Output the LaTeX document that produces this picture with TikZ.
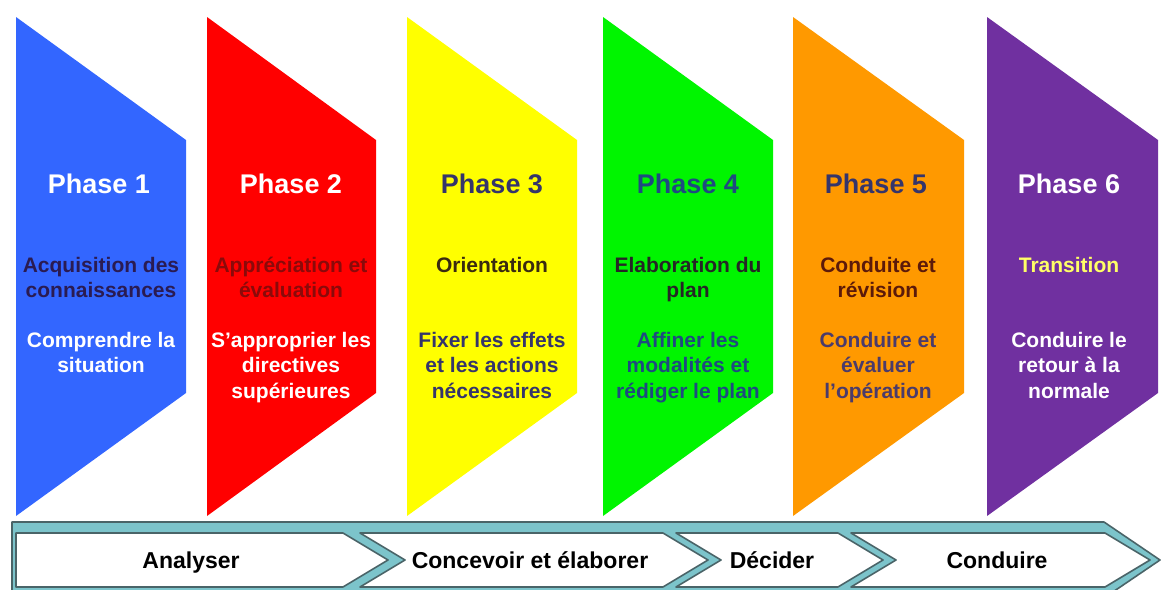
\documentclass[tikz,border=0pt]{standalone}
\usepackage{fontspec}
\setmainfont{Liberation Sans}
\usepackage{xcolor}
\usepackage{tikz}

\definecolor{fillblue}{HTML}{3366FF}
\definecolor{fillred}{HTML}{FF0000}
\definecolor{fillyellow}{HTML}{FFFF00}
\definecolor{fillgreen}{HTML}{00F500}
\definecolor{fillorange}{HTML}{FF9900}
\definecolor{fillpurple}{HTML}{7030A0}
\definecolor{barteal}{HTML}{7CC4CB}
\definecolor{bardark}{HTML}{4A6468}
\definecolor{inknavy}{HTML}{2A1B52}
\definecolor{inkred}{HTML}{8A0A0A}
\definecolor{inkslate}{HTML}{35356B}
\definecolor{inkbrown}{HTML}{3A2A10}
\definecolor{inkblue}{HTML}{1F4A80}
\definecolor{inkmaroon}{HTML}{5C1A0A}
\definecolor{inkplum}{HTML}{4B3B6B}
\definecolor{inkyellow}{HTML}{FFFF66}

\newcommand{\phaselines}[1]{\begin{tabular}[t]{@{}c@{}}#1\end{tabular}}

\begin{document}
\begin{tikzpicture}[x=1pt,y=-1pt,
	phasetitle/.style={font=\fontsize{27}{30}\selectfont\bfseries,anchor=base,inner sep=0pt},
	phasetext/.style={font=\fontsize{21}{25.5}\selectfont\bfseries,anchor=base,inner sep=0pt},
	chevron/.style={fill=white,draw=bardark,line width=1.6pt,line join=round},
	bartext/.style={font=\fontsize{23}{27}\selectfont\bfseries,anchor=base,inner sep=0pt}]
	\useasboundingbox (0,0) rectangle (1161,589);
	\clip (0,0) rectangle (1161,589);
	
	\fill[fillblue] (16,17) -- (186,140) -- (186,393) -- (16,516) -- cycle;
	\fill[fillred] (207,17) -- (376,140) -- (376,393) -- (207,516) -- cycle;
	\fill[fillyellow] (407,17) -- (577,140) -- (577,393) -- (407,516) -- cycle;
	\fill[fillgreen] (603,17) -- (773,140) -- (773,393) -- (603,516) -- cycle;
	\fill[fillorange] (793,17) -- (964,140) -- (964,393) -- (793,516) -- cycle;
	\fill[fillpurple] (987,17) -- (1158,140) -- (1158,393) -- (987,516) -- cycle;
	
	\node[phasetitle,white] (p1title) at (99,193) {Phase 1};
	\node[phasetext,inknavy] (p1top) at (101,272) {\phaselines{Acquisition des\\connaissances}};
	\node[phasetext,white] (p1bot) at (101,347) {\phaselines{Comprendre la\\situation}};
	
	\node[phasetitle,white] (p2title) at (291,193) {Phase 2};
	\node[phasetext,inkred] (p2top) at (291,272) {\phaselines{Appréciation et\\évaluation}};
	\node[phasetext,white] (p2bot) at (291,347) {\phaselines{S’approprier les\\directives\\supérieures}};
	
	\node[phasetitle,inkslate] (p3title) at (492,193) {Phase 3};
	\node[phasetext,inkbrown] (p3top) at (492,272) {Orientation};
	\node[phasetext,inkslate] (p3bot) at (492,347) {\phaselines{Fixer les effets\\et les actions\\nécessaires}};
	
	\node[phasetitle,inkblue] (p4title) at (688,193) {Phase 4};
	\node[phasetext,black!85] (p4top) at (688,272) {\phaselines{Elaboration du\\plan}};
	\node[phasetext,inkblue] (p4bot) at (688,347) {\phaselines{Affiner les\\modalités et\\rédiger le plan}};
	
	\node[phasetitle,inkslate] (p5title) at (876,193) {Phase 5};
	\node[phasetext,inkmaroon] (p5top) at (878,272) {\phaselines{Conduite et\\révision}};
	\node[phasetext,inkplum] (p5bot) at (878,347) {\phaselines{Conduire et\\évaluer\\l’opération}};
	
	\node[phasetitle,white] (p6title) at (1069,193) {Phase 6};
	\node[phasetext,inkyellow] (p6top) at (1069,272) {Transition};
	\node[phasetext,white] (p6bot) at (1069,347) {\phaselines{Conduire le\\retour à la\\normale}};
	
	\draw[fill=barteal,draw=bardark,line width=1.6pt,line join=round] (12,522) -- (1104,522) -- (1160,560) -- (1104,598) -- (12,598) -- cycle;
	\draw[chevron] (16,533) -- (343,533) -- (388,560) -- (343,587) -- (16,587) -- cycle;
	\draw[chevron] (360,533) -- (663,533) -- (708,560) -- (663,587) -- (360,587) -- (405,560) -- cycle;
	\draw[chevron] (676,533) -- (838,533) -- (883,560) -- (838,587) -- (676,587) -- (721,560) -- cycle;
	\draw[chevron] (851,533) -- (1105,533) -- (1150,560) -- (1105,587) -- (851,587) -- (896,560) -- cycle;
	
	\node[bartext] (analyser) at (191,568) {Analyser};
	\node[bartext] (concevoir) at (530,568) {Concevoir et élaborer};
	\node[bartext] (decider) at (772,568) {Décider};
	\node[bartext] (conduire) at (997,568) {Conduire};
\end{tikzpicture}
\end{document}
